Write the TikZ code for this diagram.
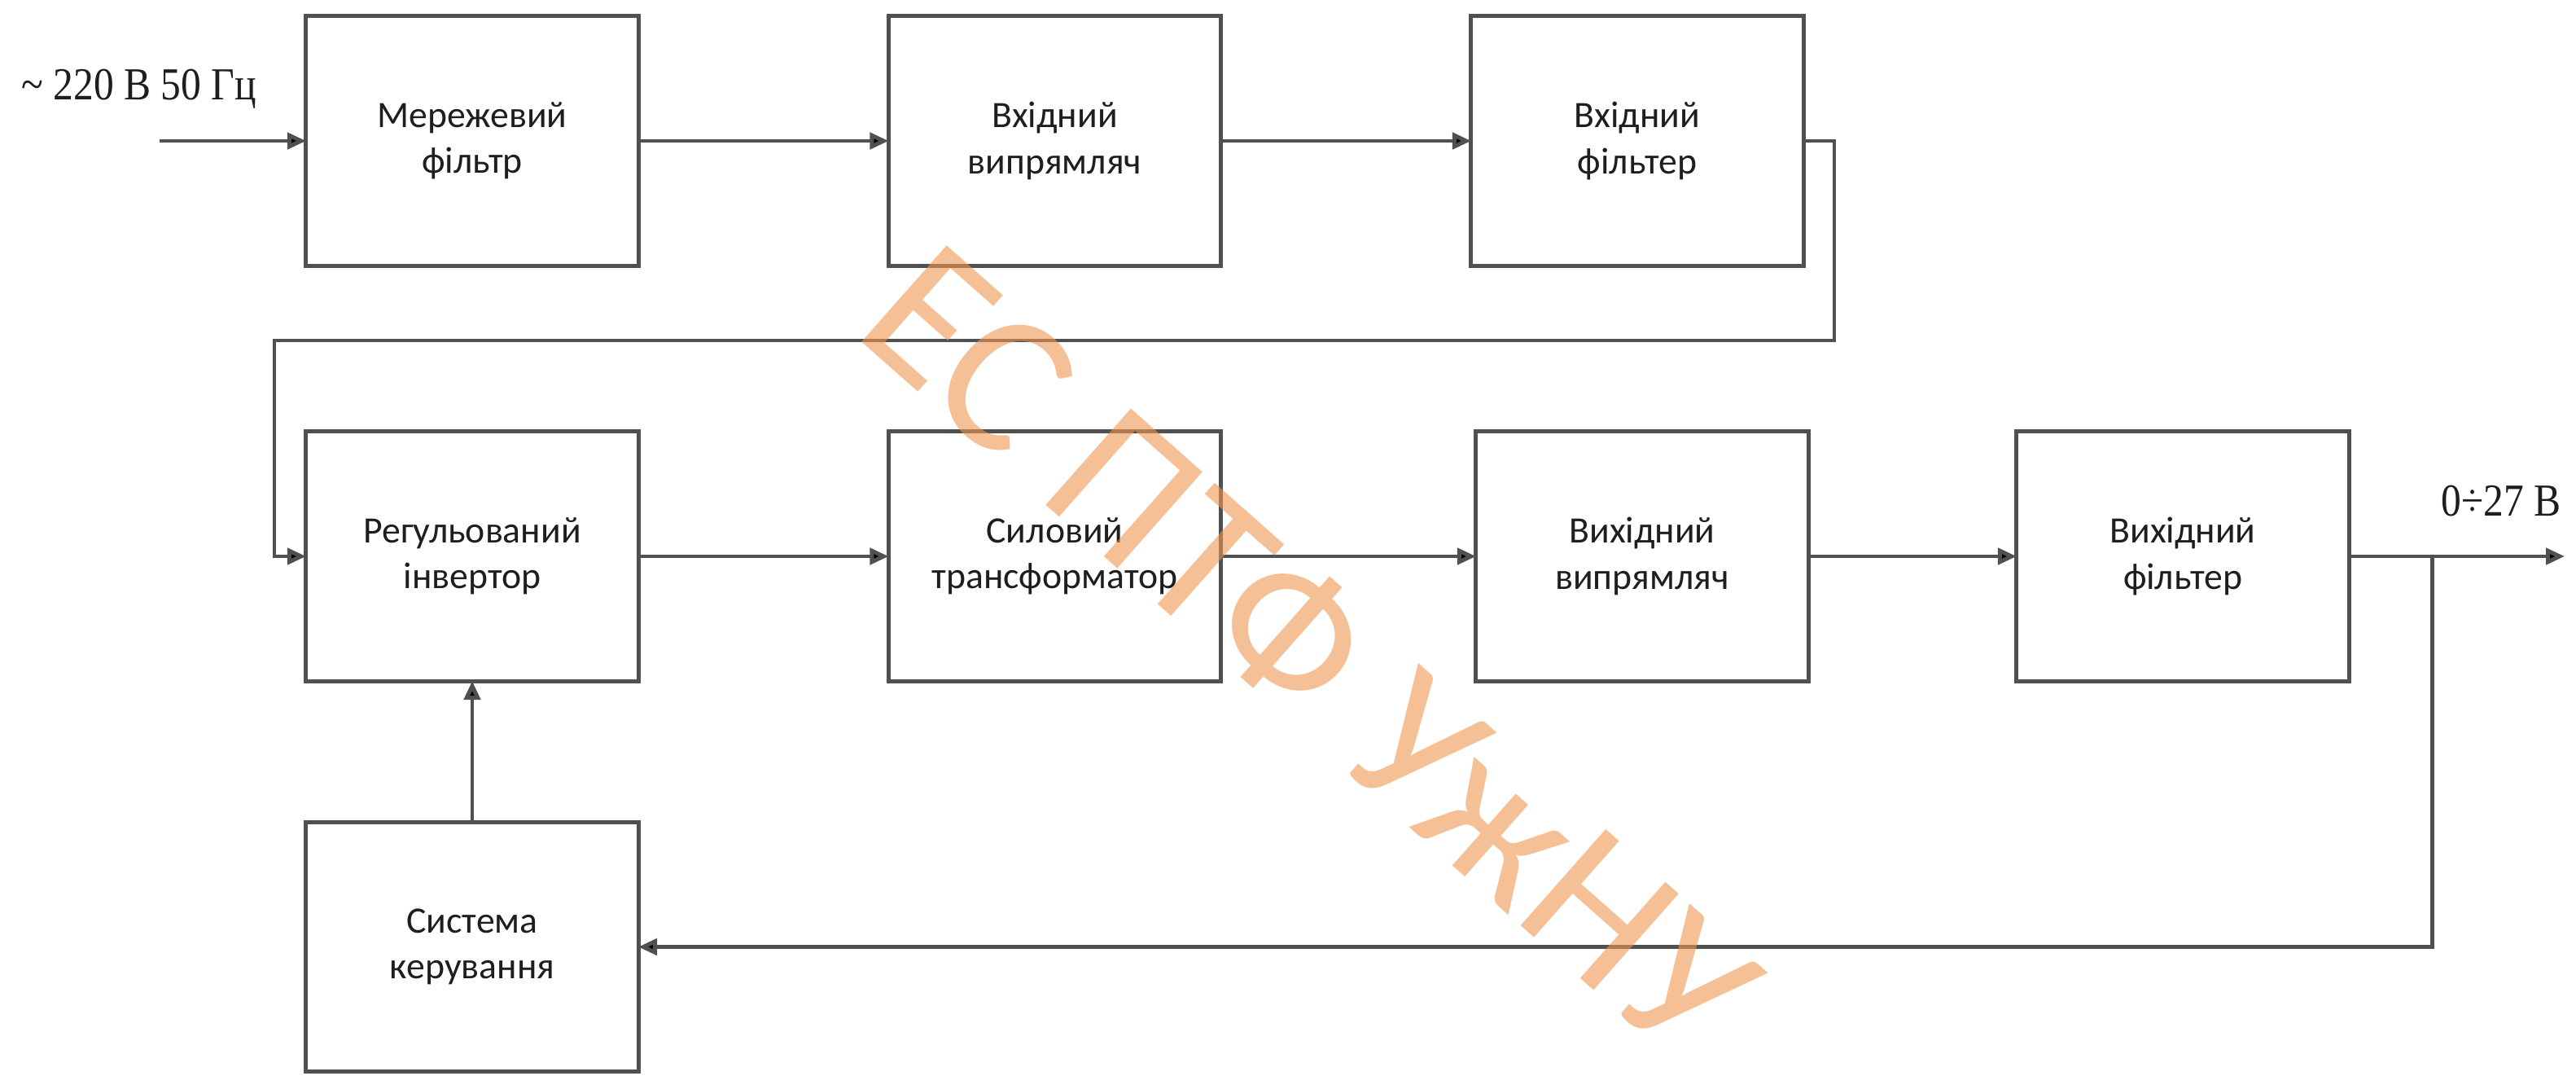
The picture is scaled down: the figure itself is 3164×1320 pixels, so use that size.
\documentclass[tikz,border=0pt]{standalone}
\usepackage{fontspec}
\setmainfont{Carlito}
\newfontfamily\boxfont{Carlito}
\newfontfamily\serifc[FakeStretch=0.88]{Liberation Serif}
\newfontfamily\wmfont{Carlito}
\usetikzlibrary{arrows.meta}
\definecolor{linegray}{RGB}{80,80,80}
\definecolor{textdark}{RGB}{30,30,30}
\definecolor{wmorange}{RGB}{240,150,80}
\tikzset{
  blockbox/.style={draw=linegray, line width=1.4pt, fill=white,
    minimum width=4.08cm, minimum height=3.06cm, inner sep=0pt, outer sep=0pt,
    align=center, text=textdark, font=\boxfont\fontsize{13}{16}\selectfont},
  conn/.style={draw=linegray, line width=1.4pt},
  arr/.style={conn, -{Triangle[length=0.23cm,width=0.2cm,fill=black]}},
  lbl/.style={inner sep=0pt, text=textdark, font=\serifc\fontsize{16}{19}\selectfont},
  wm/.style={inner sep=0pt, text=wmorange, opacity=0.6, font=\wmfont\fontsize{70}{82}\selectfont}
}
\begin{document}
\begin{tikzpicture}[x=0.01cm, y=-0.01cm]
\useasboundingbox (0,0) rectangle (3164,1320);
\fill[white] (0,0) rectangle (3164,1320);
% blocks
\node[blockbox] (B1) at (580,173)    {Мережевий\\фільтр};
\node[blockbox] (B2) at (1295.5,173) {Вхідний\\випрямляч};
\node[blockbox] (B3) at (2011,173)   {Вхідний\\фільтер};
\node[blockbox] (B4) at (580,683)    {Регульований\\інвертор};
\node[blockbox] (B5) at (1295.5,683) {Силовий\\трансформатор};
\node[blockbox] (B6) at (2017,683)   {Вихідний\\випрямляч};
\node[blockbox] (B7) at (2681,683)   {Вихідний\\фільтер};
\node[blockbox] (B8) at (580,1162.5) {Система\\керування};
% labels
\node[lbl, anchor=base west] (Lin) at (26,122) {\textasciitilde\ 220 В 50 Гц};
\node[lbl, anchor=base west] (Lout) at (2998,633) {0÷27 В};
% coordinates
\coordinate (in) at (196,173);
\coordinate (r1) at (2253,418);
\coordinate (r2) at (337,418);
\coordinate (out) at (3150,683);
\coordinate (j) at (2987,683);
% connectors
\draw[arr] (in) -- (B1.west);
\draw[arr] (B1.east) -- (B2.west);
\draw[arr] (B2.east) -- (B3.west);
\draw[arr] (B3.east) -| (r1) -- (r2) |- (B4.west);
\draw[arr] (B4.east) -- (B5.west);
\draw[arr] (B5.east) -- (B6.west);
\draw[arr] (B6.east) -- (B7.west);
\draw[arr] (B7.east) -- (out);
\draw[arr] (j) |- (B8.east);
\draw[arr] (B8.north) -- (B4.south);
% watermark
\node[wm, rotate=-41.5, anchor=base west] (wmk) at (1045,408) {ЕС ПТФ УжНУ};
\end{tikzpicture}
\end{document}
